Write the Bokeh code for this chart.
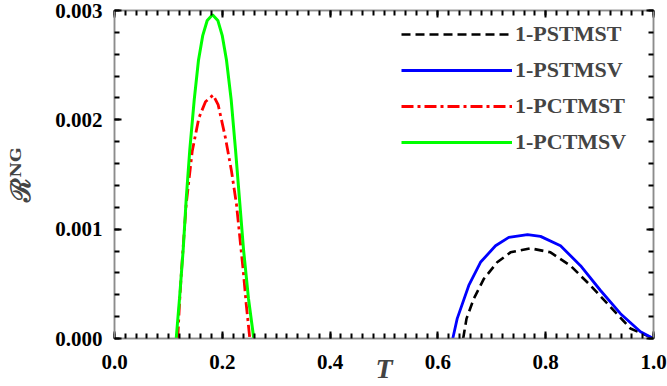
from bokeh.plotting import figure
from bokeh.models import Range1d, FixedTicker, Legend, LegendItem, LinearAxis
from bokeh.embed import file_html
from bokeh.resources import INLINE

# ---- data ----
T_pctmsv = [0.1145, 0.1206, 0.1275, 0.1330, 0.1397, 0.1479, 0.1558, 0.1638, 0.1720, 0.1818,
            0.1917, 0.1998, 0.2078, 0.2165, 0.2245, 0.2319, 0.2393, 0.2486, 0.2584]
R_pctmsv = [0.0, 0.000364, 0.000818, 0.001273, 0.001727, 0.002182, 0.002545, 0.002773, 0.002909, 0.002961,
            0.002909, 0.002773, 0.002545, 0.002182, 0.001727, 0.001273, 0.000818, 0.000364, 0.0]

T_pctmst = [0.1174, 0.1206, 0.1243, 0.1330, 0.1442, 0.1564, 0.1688, 0.1831, 0.1924, 0.2059,
            0.2171, 0.2263, 0.2388, 0.2443, 0.2510]
R_pctmst = [0.0, 0.000318, 0.000621, 0.001227, 0.001712, 0.002015, 0.002166, 0.002227, 0.002136, 0.001834,
            0.001530, 0.001227, 0.000621, 0.000318, 0.0]

T_pstmsv = [0.6276, 0.6358, 0.6573, 0.6790, 0.7069, 0.7315, 0.7662, 0.7904, 0.8275, 0.8646,
            0.9017, 0.9388, 0.9759, 1.0]
R_pstmsv = [0.0, 0.000182, 0.000485, 0.000697, 0.000848, 0.000925, 0.000950, 0.000934, 0.000848, 0.000666,
            0.000439, 0.000227, 0.000061, 0.0]

T_pstmst = [0.6469, 0.6531, 0.6666, 0.6852, 0.7100, 0.7347, 0.7718, 0.8089, 0.8460, 0.8831,
            0.9202, 0.9573, 1.0]
R_pstmst = [0.0, 0.000182, 0.000364, 0.000545, 0.000697, 0.000788, 0.000825, 0.000788, 0.000666, 0.000485,
            0.000288, 0.000091, 0.0]

x_ticks = [0.0, 0.2, 0.4, 0.6, 0.8, 1.0]
x_tick_labels = ["0.0", "0.2", "0.4", "0.6", "0.8", "1.0"]
x_minor = [i / 50 for i in range(51)]
y_ticks = [0.0, 0.001, 0.002, 0.003]
y_tick_labels = ["0.000", "0.001", "0.002", "0.003"]
y_minor = [i * 0.0002 for i in range(16)]

series_names = ["1-PSTMST", "1-PSTMSV", "1-PCTMST", "1-PCTMSV"]

X0, X1 = 0.0, 1.0
Y0, Y1 = 0.0, 0.003

FONT = "Liberation Serif"
MAJOR_LEN, MINOR_LEN = 7, 5

p = figure(width=667, height=386, output_backend="svg", toolbar_location=None,
           x_range=Range1d(X0, X1), y_range=Range1d(Y0, Y1),
           x_axis_label="T", y_axis_label="ℛᴺᴳ")
p.min_border_left = 114
p.min_border_right = 14
p.min_border_top = 10
p.min_border_bottom = 46
p.xgrid.visible = False
p.ygrid.visible = False
p.outline_line_color = "#8c8c8c"
p.outline_line_width = 1.5


def style_ticks(ax, ticks, minor):
    ax.ticker = FixedTicker(ticks=ticks, minor_ticks=minor)
    ax.axis_line_color = "#8c8c8c"
    ax.axis_line_width = 1.5
    ax.major_tick_line_color = "black"
    ax.minor_tick_line_color = "black"
    ax.major_tick_line_width = 2
    ax.minor_tick_line_width = 2
    ax.major_tick_in = MAJOR_LEN
    ax.major_tick_out = 0
    ax.minor_tick_in = MINOR_LEN
    ax.minor_tick_out = 0


for ax, ticks, minor, labels in ((p.xaxis[0], x_ticks, x_minor, x_tick_labels),
                                 (p.yaxis[0], y_ticks, y_minor, y_tick_labels)):
    style_ticks(ax, ticks, minor)
    ax.major_label_overrides = {t: l for t, l in zip(ticks, labels)}
    ax.major_label_text_font = FONT
    ax.major_label_text_font_style = "bold"
    ax.major_label_text_font_size = "21px"
    ax.major_label_text_color = "black"

xa = p.xaxis[0]
ya = p.yaxis[0]
xa.major_label_standoff = 16
ya.major_label_standoff = 12

xa.axis_label_text_font = FONT
xa.axis_label_text_font_style = "bold italic"
xa.axis_label_text_font_size = "28px"
xa.axis_label_standoff = -19
ya.axis_label_text_font = "DejaVu Serif"
ya.axis_label_text_font_style = "bold"
ya.axis_label_text_font_size = "27px"
ya.axis_label_standoff = 16

# ---- mirrored inward ticks on the top and right edges (no labels) ----
top_ax = LinearAxis()
right_ax = LinearAxis()
for ax, ticks, minor in ((top_ax, x_ticks, x_minor), (right_ax, y_ticks, y_minor)):
    style_ticks(ax, ticks, minor)
    ax.major_label_text_font_size = "0px"
    ax.major_label_text_color = None
    ax.major_label_text_alpha = 0
    ax.major_label_standoff = 0
p.add_layout(top_ax, "above")
p.add_layout(right_ax, "right")

r1 = p.line(T_pstmst, R_pstmst, line_color="black", line_width=2.6, line_dash="9 5")
r2 = p.line(T_pstmsv, R_pstmsv, line_color="#0000ff", line_width=2.8)
r3 = p.line(T_pctmst, R_pctmst, line_color="#ff0000", line_width=2.8, line_dash="12 4 3 4")
r4 = p.line(T_pctmsv, R_pctmsv, line_color="#00ff00", line_width=3)

legend = Legend(items=[LegendItem(label=n, renderers=[r]) for n, r in zip(series_names, [r1, r2, r3, r4])],
                location=(287, 179))
legend.border_line_color = None
legend.background_fill_alpha = 0
legend.padding = 0
legend.margin = 0
legend.spacing = 2
legend.glyph_width = 111
legend.glyph_height = 20
legend.label_height = 34
legend.label_standoff = 3
legend.label_text_font = FONT
legend.label_text_font_style = "bold"
legend.label_text_font_size = "22px"
legend.label_text_baseline = "middle"
p.add_layout(legend, "center")

open("out.html", "w").write(file_html(p, INLINE))
